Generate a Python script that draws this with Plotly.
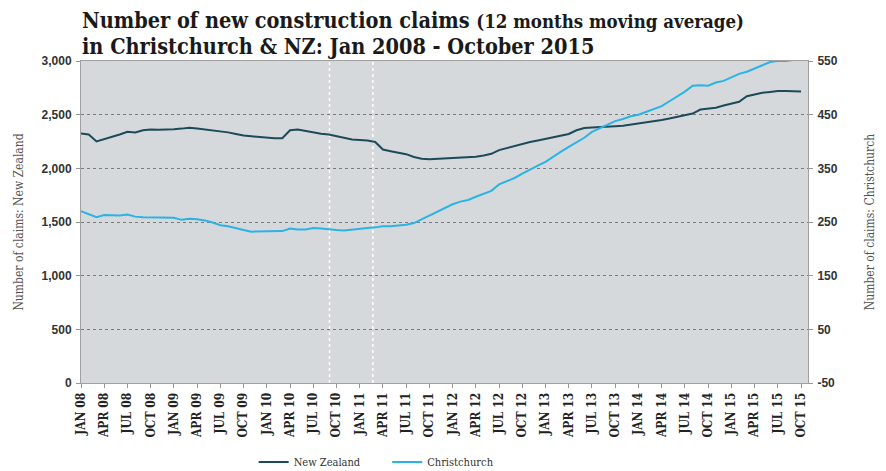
import plotly.graph_objects as go

# ---------------- data ----------------
months = ["JAN", "FEB", "MAR", "APR", "MAY", "JUN", "JUL", "AUG", "SEP", "OCT", "NOV", "DEC"]
years = ["08", "09", "10", "11", "12", "13", "14", "15"]
month_labels = [f"{m} {y}" for y in years for m in months][:94]  # Jan 08 .. Oct 15

nz_claims = [
    2325, 2315, 2250, 2270, 2295, 2315, 2340, 2335, 2355, 2362, 2360, 2360,
    2365, 2370, 2378, 2372, 2362, 2355, 2348, 2335, 2320, 2305, 2298, 2292,
    2283, 2280, 2280, 2355, 2362, 2348, 2335, 2322, 2315, 2300, 2278, 2268,
    2265, 2260, 2245, 2175, 2160, 2145, 2132, 2105, 2090, 2085, 2088, 2093,
    2095, 2100, 2105, 2108, 2120, 2135, 2170, 2190, 2205, 2225, 2245, 2260,
    2275, 2290, 2300, 2320, 2355, 2375, 2380, 2386, 2390, 2393, 2397, 2408,
    2420, 2428, 2435, 2450, 2465, 2480, 2497, 2510, 2548, 2558, 2565, 2585,
    2600, 2620, 2672, 2690, 2705, 2712, 2720, 2720, 2720, 2715,
]
chch_claims = [
    270, 264, 259, 263, 263, 262, 264, 260, 259, 259, 259, 259,
    258, 254, 256, 255, 253, 249, 244, 242, 238, 235, 232, 232,
    232, 232, 233, 238, 236, 236, 239, 238, 236, 235, 234, 236,
    238, 239, 240, 242, 242, 243, 245, 248, 255, 263, 270, 276,
    283, 288, 291, 297, 303, 308, 320, 326, 332, 340, 348, 355,
    362, 372, 381, 390, 398, 407, 418, 425, 432, 438, 442, 447,
    450, 455, 460, 466, 475, 484, 493, 504, 505, 504, 510, 513,
    520, 526, 530, 536, 542, 548, 550, 550, 552, 552,
]
earthquake_months = [32.1, 37.7]  # Sep 2010, Feb 2011

left_ticks = [0, 500, 1000, 1500, 2000, 2500, 3000]
right_ticks = [-50, 50, 150, 250, 350, 450, 550]

title_line1 = "Number of new construction claims"
title_sub = "(12 months moving average)"
title_line2 = "in Christchurch & NZ: Jan 2008 - October 2015"

x_idx = list(range(len(month_labels)))
tick_idx = x_idx[::3]
tick_txt = [f"<b>{t}</b>" for t in month_labels[::3]]

NZ_COL = "#1d4a5a"
CH_COL = "#2bb3e6"
serif = "DejaVu Serif Condensed, DejaVu Serif, Liberation Serif, serif"
sans = "Liberation Sans, Arial, sans-serif"
NB = "\u00a0"

fig = go.Figure()
fig.add_trace(go.Scatter(x=x_idx, y=nz_claims, name="New Zealand" + NB * 7, mode="lines",
                         line=dict(color=NZ_COL, width=2), yaxis="y"))
fig.add_trace(go.Scatter(x=x_idx, y=chch_claims, name="Christchurch", mode="lines",
                         line=dict(color=CH_COL, width=2), yaxis="y2"))

for em in earthquake_months:
    fig.add_shape(type="line", xref="x", yref="paper", x0=em, x1=em, y0=0, y1=1,
                  line=dict(color="white", width=1.5, dash="dot"), layer="below")

fig.add_annotation(
    text=f"<b>{title_line1} <span style='font-size:18.5px'>{title_sub}</span></b>",
    xref="paper", yref="paper", x=0, y=1.0, xanchor="left", yanchor="bottom",
    yshift=25.5, xshift=-1, showarrow=False, align="left",
    font=dict(family=serif, size=21.5, color="#1a1a1a"))
fig.add_annotation(
    text=f"<b>{title_line2.replace('&', '&amp;')}</b>",
    xref="paper", yref="paper", x=0, y=1.0, xanchor="left", yanchor="bottom",
    yshift=0, xshift=-1, showarrow=False, align="left",
    font=dict(family=serif, size=21.5, color="#1a1a1a"))

fig.update_layout(
    width=878, height=463,
    margin=dict(l=73, r=78, t=53, b=88, autoexpand=False),
    paper_bgcolor="white",
    plot_bgcolor="#d6d9dc",
    xaxis=dict(
        range=[0, 93.9], tickmode="array", tickvals=tick_idx, ticktext=tick_txt,
        tickangle=-90, ticks="outside", ticklen=4, tickcolor="#999",
        tickfont=dict(family=serif, size=12, color="#222"),
        showgrid=False, zeroline=False, showline=True, linecolor="#a0a0a0", linewidth=1,
        mirror=True, automargin=False,
    ),
    yaxis=dict(
        range=[0, 3000], tickmode="array", tickvals=left_ticks,
        ticktext=[f"{v:,}" for v in left_ticks],
        ticks="outside", ticklen=4, tickcolor="#999", ticklabelstandoff=2,
        tickfont=dict(family=sans, size=12, color="#333", weight="bold"),
        showgrid=True, gridcolor="#7a7a7a", griddash="dot", gridwidth=1,
        zeroline=False, showline=True, linecolor="#a0a0a0", linewidth=1,
        automargin=False,
        title=dict(text="Number of claims: New Zealand", standoff=15,
                   font=dict(family=serif, size=12, color="#555")),
    ),
    yaxis2=dict(
        range=[-50, 550], tickmode="array", tickvals=right_ticks,
        ticktext=[str(v) for v in right_ticks],
        overlaying="y", side="right",
        ticks="outside", ticklen=4, tickcolor="#999", ticklabelstandoff=2,
        tickfont=dict(family=sans, size=12, color="#333", weight="bold"),
        showgrid=False, zeroline=False, showline=True, linecolor="#a0a0a0", linewidth=1,
        automargin=False,
        title=dict(text="Number of claims: Christchurch", standoff=28,
                   font=dict(family=serif, size=12, color="#555")),
    ),
    showlegend=True,
    legend=dict(orientation="h", x=0.2375, xanchor="left", y=-0.245, yanchor="middle",
                font=dict(family=serif, size=11, color="#333"),
                bgcolor="rgba(0,0,0,0)", itemwidth=30),
)

fig.write_html("out.html")
